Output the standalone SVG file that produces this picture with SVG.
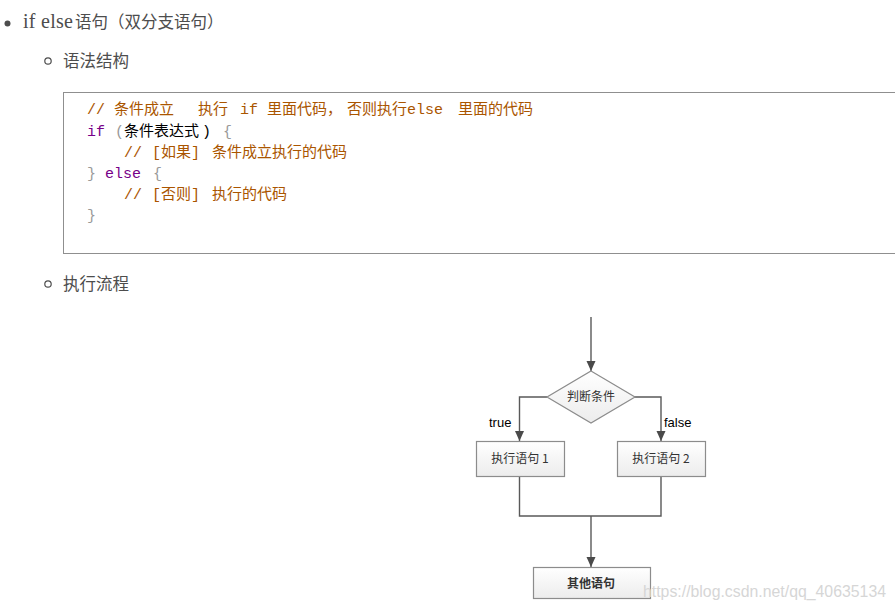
<svg xmlns="http://www.w3.org/2000/svg" width="895" height="612" viewBox="0 0 895 612">
<style>
.t{font-family:"Liberation Serif","Noto Sans CJK SC",serif;fill:#4d4d4d}
.cjk{font-family:"Noto Sans CJK SC","Liberation Sans",sans-serif;fill:#4d4d4d}
.code{font-family:"Liberation Mono","Noto Sans CJK SC",monospace;font-size:15px}
.cm{fill:#aa5500}
.kw{fill:#770088}
.br{fill:#999999}
.bk{fill:#000000}
.ln{fill:none;stroke:#595959;stroke-width:1.4}
.box{stroke:#8c8c8c;stroke-width:1.2;fill:url(#g)}
.lbl{font-family:"Noto Sans CJK SC",serif;font-size:12px;fill:#333;text-anchor:middle}
.tf{font-family:"Liberation Sans","Noto Sans",sans-serif;font-size:13px;fill:#000}
</style>
<defs>
<linearGradient id="g" x1="0" y1="0" x2="0" y2="1">
<stop offset="0" stop-color="#ffffff"/>
<stop offset="1" stop-color="#ececec"/>
</linearGradient>
<marker id="ah" viewBox="0 0 10 10" refX="10" refY="5" markerWidth="10" markerHeight="10" markerUnits="userSpaceOnUse" orient="auto">
<path d="M0,0.5 L10,5 L0,9.5 Z" fill="#4a4a4a"/>
</marker>
</defs>
<rect width="895" height="612" fill="#ffffff"/>

<g id="heading">
<circle cx="7.5" cy="23.5" r="3" fill="#4d4d4d"/>
<text class="t" x="23" y="28" font-size="20" textLength="50" lengthAdjust="spacing">if else</text>
<text class="cjk" x="75" y="28" font-size="16.5">语句（双分支语句）</text>
</g>

<g id="sub1">
<circle cx="48" cy="61" r="3.2" fill="none" stroke="#4d4d4d" stroke-width="1.2"/>
<text class="cjk" x="63" y="67" font-size="16.5">语法结构</text>
</g>

<g id="codebox">
<rect x="63.5" y="92.5" width="840" height="161" fill="#ffffff" stroke="#8f8f8f" stroke-width="1"/>
<text class="code cm" x="87" y="114">// 条件成立</text>
<text class="code cm" x="198" y="114">执行</text>
<text class="code cm" x="240" y="114">if</text>
<text class="code cm" x="267" y="114">里面代码，</text>
<text class="code cm" x="347" y="114">否则执行else</text>
<text class="code cm" x="458" y="114">里面的代码</text>

<text class="code kw" x="87" y="136">if</text>
<text class="code br" x="115" y="136">(</text>
<text class="code bk" x="124" y="136">条件表达式</text>
<text class="code bk" x="202" y="136">)</text>
<text class="code br" x="223" y="136">{</text>

<text class="code cm" x="124" y="157">//</text>
<text class="code cm" x="152" y="157">[如果]</text>
<text class="code cm" x="212" y="157">条件成立执行的代码</text>

<text class="code br" x="87" y="178">}</text>
<text class="code kw" x="105" y="178">else</text>
<text class="code br" x="153" y="178">{</text>

<text class="code cm" x="124" y="199">//</text>
<text class="code cm" x="152" y="199">[否则]</text>
<text class="code cm" x="212" y="199">执行的代码</text>

<text class="code br" x="87" y="220">}</text>
</g>

<g id="sub2">
<circle cx="48" cy="284" r="3.2" fill="none" stroke="#4d4d4d" stroke-width="1.2"/>
<text class="cjk" x="63" y="290" font-size="16.5">执行流程</text>
</g>

<g id="connectors">
<path class="ln" d="M591,317 V371" marker-end="url(#ah)"/>
<path class="ln" d="M547,397 H519.5 V441" marker-end="url(#ah)"/>
<path class="ln" d="M634,397 H661 V441" marker-end="url(#ah)"/>
<path class="ln" d="M519.5,477 V516 H661 V477"/>
<path class="ln" d="M591,516 V567" marker-end="url(#ah)"/>
<text class="tf" x="489" y="427">true</text>
<text class="tf" x="664" y="427">false</text>
</g>

<g id="decision">
<path class="box" d="M591,371 L635,397 L591,423 L547,397 Z"/>
<text class="lbl" x="591" y="401">判断条件</text>
</g>

<g id="stmt1">
<rect class="box" x="476.5" y="441.5" width="88" height="35"/>
<text class="lbl" x="520" y="463" font-size="12.5">执行语句 1</text>
</g>

<g id="stmt2">
<rect class="box" x="617.5" y="441.5" width="88" height="35"/>
<text class="lbl" x="661" y="463" font-size="12.5">执行语句 2</text>
</g>

<g id="other">
<rect class="box" x="533.5" y="567.5" width="117" height="31"/>
<text class="lbl" x="591" y="588" font-size="14.5" font-weight="bold" fill="#222">其他语句</text>
</g>

<text x="643" y="597" font-family="Liberation Sans, sans-serif" font-size="16" fill="#d6d6d6" textLength="243" lengthAdjust="spacingAndGlyphs">https://blog.csdn.net/qq_40635134</text>
</svg>
